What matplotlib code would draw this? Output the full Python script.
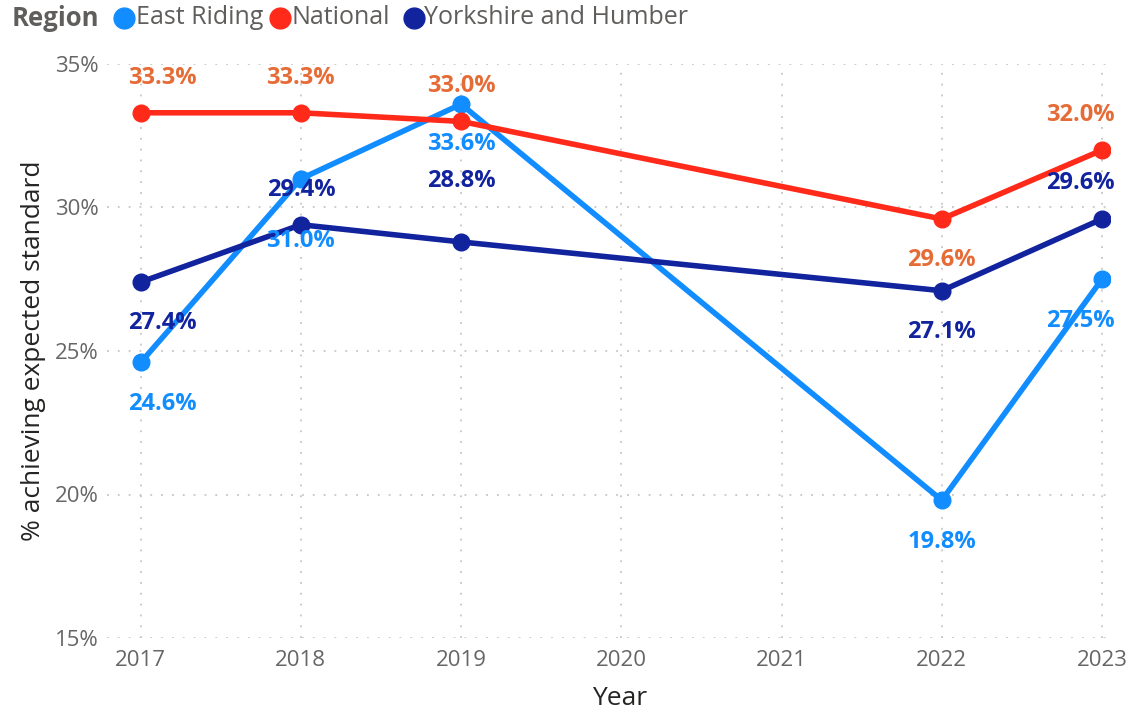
import matplotlib
matplotlib.use("Agg")
import matplotlib.pyplot as plt
from matplotlib.lines import Line2D

plt.rcParams['font.family'] = ['Open Sans', 'DejaVu Sans']

years = [2017, 2018, 2019, 2022, 2023]
all_years = [2017, 2018, 2019, 2020, 2021, 2022, 2023]
series_names = ["East Riding", "National", "Yorkshire and Humber"]
east_riding = [24.6, 31.0, 33.6, 19.8, 27.5]
national = [33.3, 33.3, 33.0, 29.6, 32.0]
yorkshire = [27.4, 29.4, 28.8, 27.1, 29.6]
y_ticks = [15, 20, 25, 30, 35]

line_colors = ["#118DFF", "#FF2A1A", "#12239E"]
label_colors = ["#118DFF", "#E66C37", "#12239E"]
# label placement: pixel offset of label centre from point (positive = up)
label_offsets = [
    [-42, -62, -40, -42, -42],
    [35, 35, 35, -41, 35],
    [-41, 35, 61, -41, 36],
]

W, H = 1131, 712
fig = plt.figure(figsize=(W / 100, H / 100), dpi=100)
ax = fig.add_axes([107 / W, 1 - 638 / H, (1110 - 107) / W, (638 - 64) / H])

values = [east_riding, national, yorkshire]
n = len(years)
for vals, lc, tc, offs in zip(values, line_colors, label_colors, label_offsets):
    ax.plot(years, vals, color=lc, lw=4.0, marker='o', markersize=12,
            solid_capstyle='round', solid_joinstyle='round', zorder=3)
    for i, (x, v, o) in enumerate(zip(years, vals, offs)):
        if i == 0:
            ha, dx = 'left', -13
        elif i == n - 1:
            ha, dx = 'right', 13
        else:
            ha, dx = 'center', 0
        ax.annotate(f"{v:.1f}%", (x, v), xytext=(dx, o), textcoords='offset pixels',
                    ha=ha, va='center', fontsize=17, fontweight='bold',
                    color=tc, zorder=4, annotation_clip=False)

ax.set_xlim(2016.79, 2023.05)
ax.set_ylim(15, 35)
ax.set_xticks(all_years)
ax.set_xticklabels([str(y) for y in all_years])
ax.set_yticks(y_ticks)
ax.set_yticklabels([f"{t}%" for t in y_ticks])
ax.tick_params(axis='both', length=0, labelsize=16, labelcolor='#666666')
ax.tick_params(axis='x', pad=9)
ax.tick_params(axis='y', pad=6)
for s in ax.spines.values():
    s.set_visible(False)
ax.grid(True, color='#C8C6C4', lw=1.3, linestyle=(0, (1, 5)))
ax.set_axisbelow(True)

ax.set_xlabel("Year", fontsize=19, color='#252423', fontweight='medium')
ax.xaxis.set_label_coords((620 - 107) / 1003, (638 - 686) / 574)
ax.set_ylabel("% achieving expected standard", fontsize=19, color='#252423',
              fontweight='medium', labelpad=6)

# legend
ly = 1 - 18 / H
fig.text(12 / W, ly, "Region", fontsize=18.5, fontweight='bold', color='#605E5C',
         ha='left', va='center')
leg_marker_x = [124, 280, 414]
leg_text_x = [136, 291, 424]
for name, c, mx, tx in zip(series_names, line_colors, leg_marker_x, leg_text_x):
    fig.add_artist(Line2D([mx / W], [ly], marker='o', markersize=15,
                          color=c, transform=fig.transFigure))
    fig.text(tx / W, ly, name, fontsize=18, color='#605E5C',
             ha='left', va='center')

fig.savefig("out.png", dpi=100)
